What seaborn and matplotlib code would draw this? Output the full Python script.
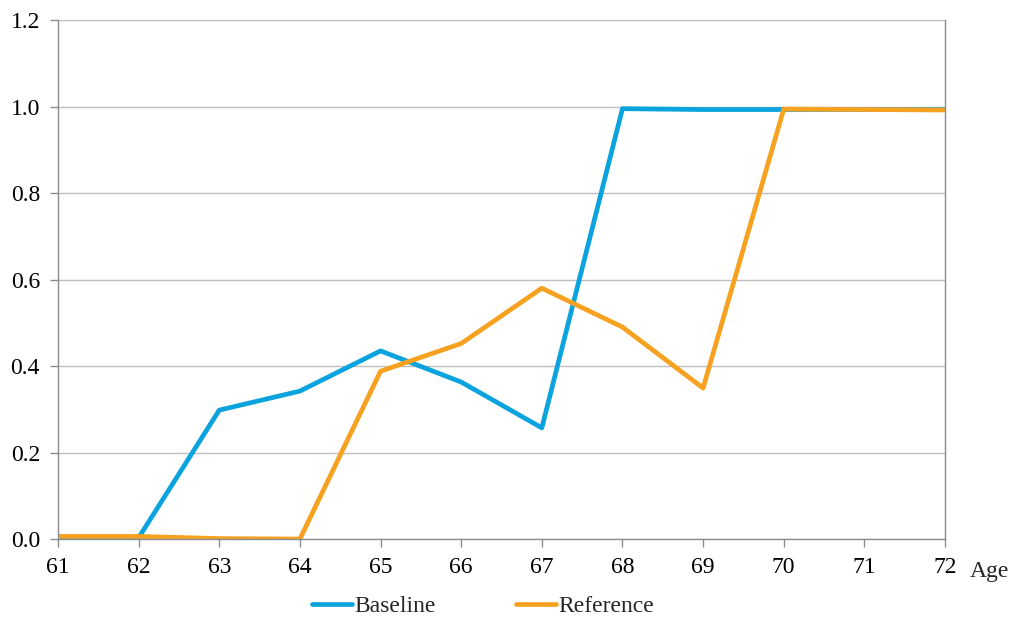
import matplotlib
matplotlib.use("Agg")
import matplotlib.pyplot as plt
import seaborn as sns
import pandas as pd

ages = [61, 62, 63, 64, 65, 66, 67, 68, 69, 70, 71, 72]
baseline = [0.004, 0.003, 0.298, 0.342, 0.435, 0.363, 0.257, 0.995, 0.993, 0.993, 0.993, 0.993]
reference = [0.006, 0.006, 0.001, 0.000, 0.388, 0.452, 0.580, 0.490, 0.349, 0.994, 0.993, 0.992]
series_names = ["Baseline", "Reference"]
colors = ["#0BA3DE", "#F6A220"]

df = pd.DataFrame({
    "Age": ages * 2,
    "Value": baseline + reference,
    "Series": [series_names[0]] * len(ages) + [series_names[1]] * len(ages),
})

sns.set_theme(style="white")
plt.rcParams["font.family"] = ["Liberation Serif", "DejaVu Serif"]

fig = plt.figure(figsize=(10.12, 6.18), dpi=100)
ax = fig.add_axes([0.0573, 0.1278, 0.8765, 0.8398])

sns.lineplot(data=df, x="Age", y="Value", hue="Series", palette=colors,
             linewidth=3.4, ax=ax, legend=True)

ax.set_xlim(61, 72)
ax.set_ylim(0, 1.2)
ax.set_xticks(ages)
ax.set_xticklabels([str(a) for a in ages])
ax.set_yticks([0, 0.2, 0.4, 0.6, 0.8, 1.0, 1.2])
ax.set_yticklabels(["0.0", "0.2", "0.4", "0.6", "0.8", "1.0", "1.2"])
ax.grid(axis="y", color="#BEBEBE", linewidth=1)
ax.set_axisbelow(True)
ax.set_xlabel("")
ax.set_ylabel("")

for side in ["left", "bottom", "right"]:
    ax.spines[side].set_visible(True)
    ax.spines[side].set_color("#8C8C8C")
    ax.spines[side].set_linewidth(1)
ax.spines["top"].set_visible(False)

ax.tick_params(axis="both", which="both", direction="out", length=6, width=1,
               color="#8C8C8C", labelsize=17, colors="black")
ax.tick_params(axis="x", pad=7)
ax.tick_params(axis="y", pad=7)
ax.tick_params(bottom=True, left=True)

ax.text(1.028, -0.063, "Age", transform=ax.transAxes, fontsize=17,
        ha="left", va="center")

handles, labels = ax.get_legend_handles_labels()
for h in handles:
    h.set_linewidth(3.4)
ax.legend(handles, labels, loc="center", bbox_to_anchor=(0.479, -0.13),
          ncol=2, frameon=False, fontsize=17, handlelength=1.7,
          handletextpad=0.1, columnspacing=3.4, borderpad=0)

fig.savefig("out.png", dpi=100)
